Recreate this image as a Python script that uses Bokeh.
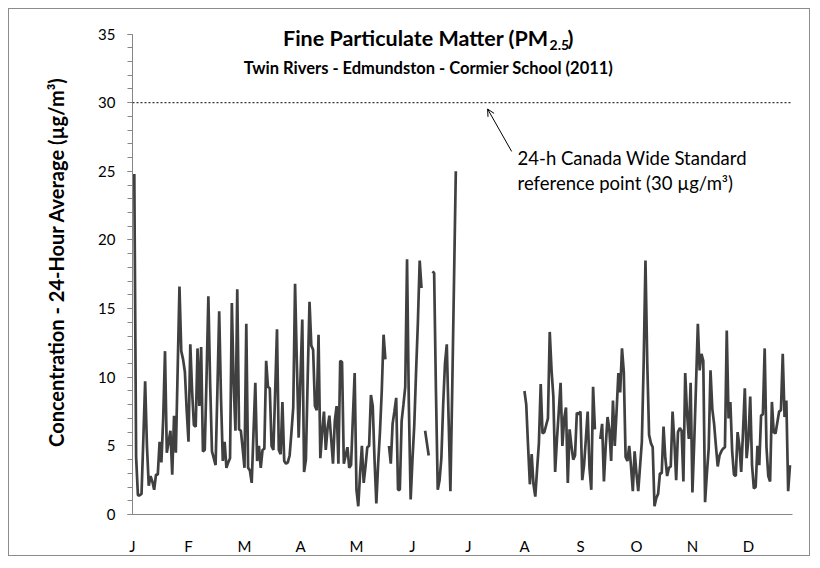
import math
from bokeh.plotting import figure
from bokeh.models import Range1d, FixedTicker, SingleIntervalTicker, Span, Label, Arrow, OpenHead
from bokeh.embed import file_html
from bokeh.resources import INLINE

# ---- data (daily 24-h PM2.5, µg/m3; None = no data) ----
jan = [None, 24.8, 4.2, 1.4, 1.4, 1.5, 5.5, 9.7, 5.0, 2.1, 2.8, 2.4, 1.8, 2.9, 2.9, 5.3,
       3.8, 7.0, 11.9, 4.5, 5.3, 6.1, 2.9, 7.2, 4.5, 10.5, 16.6, 11.9, 11.3, 10.4, 7.6]
feb = [5.3, 12.4, 9.0, 6.5, 6.4, 12.1, 7.9, 12.2, 4.6, 4.7, 10.0, 15.9, 9.5, 4.6, 4.1, 3.6,
       9.0, 14.8, 8.5, 3.9, 5.3, 3.4, 3.8, 4.1, 15.4, 9.5, 6.1, 16.4]
mar = [6.2, 6.1, 4.8, 3.4, 13.9, 3.4, 3.2, 2.3, 6.0, 9.6, 3.9, 5.0, 3.4, 4.7, 4.8, 11.2,
       9.3, 9.2, 5.0, 4.7, 9.0, 13.5, 4.7, 4.4, 8.2, 3.9, 3.7, 3.8, 4.3, 6.0, 7.8]
apr = [16.8, 11.0, 5.6, 10.0, 14.2, 3.1, 4.0, 10.0, 15.5, 12.3, 12.0, 7.9, 7.6, 13.1, 4.1,
       6.0, 7.5, 4.7, 6.3, 7.2, 5.5, 3.7, 6.8, 7.9, 3.7, 11.2, 11.1, 3.7, 4.3, 4.9]
may = [3.4, 3.6, 7.0, 10.3, 1.8, 0.6, 3.0, 5.0, 2.3, 3.5, 4.9, 5.0, 8.7, 7.9, 4.0, 0.8,
       3.7, 6.0, 9.0, 13.1, 11.3, None, 5.0, 3.7, 6.6, 7.5, 8.5, 1.8, 1.8, 6.8, 8.0]
jun = [9.3, 18.6, 8.0, 1.1, 4.0, 6.5, 10.4, 14.0, 18.5, 16.5, None, 6.1, 5.2, 4.3, None,
       17.7, 17.6, 9.0, 1.8, 2.5, 4.1, 8.0, 11.0, 12.4, 7.0, 1.7, 9.0, 17.0, 25.0, None]
jul = [None] * 31
aug = [None, None, None, None, None, 9.0, 8.0, 5.0, 2.2, 4.4, 2.2, 1.3, 3.3, 5.2, 9.5, 5.9,
       6.0, 6.5, 7.0, 13.3, 10.5, 8.6, 3.1, 5.5, 7.5, 9.6, 5.0, 7.0, 7.8, 2.3, 6.2]
sep = [5.0, 4.0, 4.3, 7.4, 7.3, 7.5, 2.5, 3.6, 5.5, 7.5, 3.4, 1.8, 9.3, 6.2, None, None,
       5.5, 6.6, 2.4, 5.0, 7.1, 6.2, 3.9, 8.3, 5.0, 7.5, 10.3, 8.9, 12.1, 10.4]
oct_ = [4.2, 3.9, 5.0, 3.5, 1.7, 4.6, 3.0, 1.7, 3.5, 5.3, 11.0, 18.5, 11.0, 5.8, 5.2, 4.9,
        0.6, 1.2, 1.5, 3.0, 3.0, 6.4, 4.1, 2.8, 3.4, 3.5, 7.5, 5.3, 2.5, 6.0, 6.3]
nov = [6.1, 2.4, 10.3, 7.4, 5.5, 9.6, 1.6, 5.3, 9.5, 13.9, 10.5, 11.7, 11.2, 0.9, 3.0, 4.8,
       10.5, 7.7, 6.6, 5.0, 3.5, 4.3, 4.6, 4.8, 4.9, 13.4, 7.0, 8.2, 4.6, 2.9]
dec = [2.8, 6.0, 5.0, 3.1, 6.0, 9.2, 4.1, 5.5, 8.6, 3.6, 1.9, 2.0, 5.0, 3.6, 7.2, 7.3,
       12.1, 4.9, 2.8, 2.4, 8.2, 6.0, 5.9, 6.7, 7.5, 7.6, 11.7, 7.1, 8.3, 1.7, 3.6]

month_letters = ["J", "F", "M", "A", "M", "J", "J", "A", "S", "O", "N", "D"]
label_days = [0, 31, 62, 93, 124, 155, 186, 217, 248, 279, 310, 341]
cws_value = 30
y_max = 35

pm25 = jan + feb + mar + apr + may + jun + jul + aug + sep + oct_ + nov + dec
days = list(range(len(pm25)))
vals = [math.nan if v is None else v for v in pm25]

FONT = "Lato"

# frame reaches the top of the canvas so the title (drawn inside the frame) is not clipped;
# the y axis itself stops at 35 via its bounds
p = figure(width=802, height=548, x_range=Range1d(0, 365.4), y_range=Range1d(0, 36.79),
           output_backend="svg", toolbar_location=None,
           min_border_left=123, min_border_right=19, min_border_top=0, min_border_bottom=35)
p.styles = {"border": "1px solid #8c8c8c", "margin": "8px"}
p.outline_line_color = None
p.xgrid.visible = False
p.ygrid.visible = False
p.background_fill_color = "white"
p.border_fill_color = "white"

p.line(days, vals, line_color="#404040", line_width=2.7)

p.add_layout(Span(location=cws_value, dimension="width", line_color="black",
                  line_width=1, line_dash="2 2"))

# x axis
xa = p.xaxis[0]
xa.ticker = FixedTicker(ticks=label_days)
xa.major_label_overrides = {d: m for d, m in zip(label_days, month_letters)}
xa.axis_line_color = "#868686"
xa.major_tick_line_color = None
xa.minor_tick_line_color = None
xa.major_label_text_font = FONT
xa.major_label_text_font_size = "15px"
xa.major_label_text_color = "black"
xa.major_label_standoff = 16

# y axis
ya = p.yaxis[0]
ya.bounds = (0, y_max)
ya.ticker = SingleIntervalTicker(interval=5, num_minor_ticks=5)
ya.axis_line_color = "#868686"
ya.major_tick_line_color = "#868686"
ya.minor_tick_line_color = "#868686"
ya.major_tick_out = 5
ya.major_tick_in = 0
ya.minor_tick_out = 5
ya.minor_tick_in = 0
ya.major_label_text_font = FONT
ya.major_label_text_font_size = "15px"
ya.major_label_text_color = "black"
ya.major_label_standoff = 12
ya.axis_label = "Concentration - 24-Hour Average (µg/m³)"
ya.axis_label_text_font = FONT
ya.axis_label_text_font_style = "bold"
ya.axis_label_text_font_size = "20px"
ya.axis_label_text_color = "black"
ya.axis_label_standoff = 27

# title (inside chart area)
tkw = dict(text_font=FONT, text_font_style="bold", text_color="black", text_baseline="middle")
p.add_layout(Label(x=230.3, y=34.75, text="Fine Particulate Matter (PM", text_align="right",
                   text_font_size="21.5px", **tkw))
p.add_layout(Label(x=230.9, y=34.2, text="2.5", text_align="left", text_font_size="14px", **tkw))
p.add_layout(Label(x=240.9, y=34.75, text=")", text_align="left", text_font_size="21.5px", **tkw))
p.add_layout(Label(x=163.9, y=32.55, text="Twin Rivers - Edmundston - Cormier School (2011)",
                   text_align="center", text_font_size="16.5px", **tkw))

# annotation
akw = dict(text_font=FONT, text_font_size="18.5px", text_color="black",
           text_baseline="middle", text_align="left")
p.add_layout(Label(x=213.2, y=25.95, text="24-h Canada Wide Standard", **akw))
p.add_layout(Label(x=213.2, y=24.16, text="reference point (30 µg/m³)", **akw))
p.add_layout(Arrow(x_start=209.9, y_start=26.45, x_end=196.6, y_end=29.54,
                   line_color="black", line_width=1,
                   end=OpenHead(size=7, line_color="black", line_width=1)))

open("out.html", "w").write(file_html(p, INLINE))
